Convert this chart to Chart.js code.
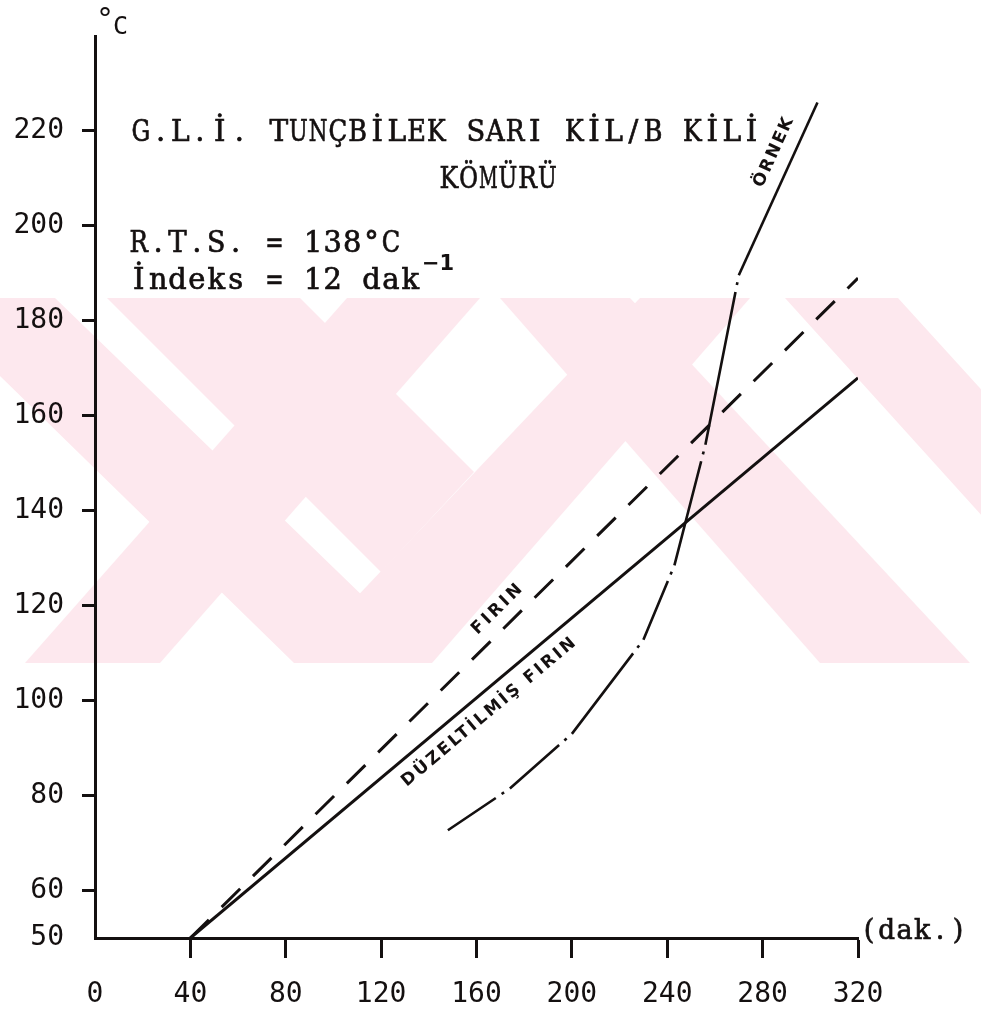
<!DOCTYPE html>
<html><head><meta charset="utf-8">
<script src="https://cdn.jsdelivr.net/npm/chart.js@4/dist/chart.umd.min.js"></script>
<style>html,body{margin:0;padding:0;background:#fff;} canvas{display:block;}</style>
</head><body>
<canvas id="c" width="981" height="1011"></canvas>
<script>
// ---- data ----
const xTicks = [0, 40, 80, 120, 160, 200, 240, 280, 320];
const yTicks = [50, 60, 80, 100, 120, 140, 160, 180, 200, 220];
const firinX = [40, 320];
const firinY = [50, 189];
const duzeltilmisX = [40, 320];
const duzeltilmisY = [50, 168];
const ornekX = [148, 174, 200, 230, 243, 256, 270, 303];
const ornekY = [72.7, 81.5, 93, 112.8, 128.5, 153.9, 189.6, 226];

const titleLine1 = 'G.L.İ. TUNÇBİLEK SARI KİL/B KİLİ';
const titleLine2 = 'KÖMÜRÜ';
const rtsText = 'R.T.S. = 138°C';
const indeksText = 'İndeks = 12 dak';
const indeksSup = '−1';
const xUnit = '(dak.)';
const labelFirin = 'FIRIN';
const labelDuz = 'DÜZELTİLMİŞ FIRIN';
const labelOrnek = 'ÖRNEK';

const ink = '#141010';
const pink = '#fde8ee';
const toXY = (xs, ys) => xs.map((x, i) => ({x, y: ys[i]}));

// typewriter-like text: each glyph in a fixed cell
function typeText(c, str, x, y, cell, font) {
  c.font = font; c.textAlign = 'center'; c.textBaseline = 'middle';
  c.strokeStyle = ink; c.lineWidth = 0.7;
  [...str].forEach((ch, i) => {
    const cx = x + cell * i + cell / 2;
    c.fillText(ch, cx, y, cell - 1);
    c.strokeText(ch, cx, y, cell - 1);
  });
  return x + cell * [...str].length;
}
function labelAlong(chart, dsIndex, i0, t, offset, text, font, spacing) {
  const meta = chart.getDatasetMeta(dsIndex);
  const p0 = meta.data[i0], p1 = meta.data[i0 + 1];
  const x = p0.x + (p1.x - p0.x) * t, y = p0.y + (p1.y - p0.y) * t;
  const ang = Math.atan2(p1.y - p0.y, p1.x - p0.x);
  const c = chart.ctx;
  c.save();
  c.translate(x, y); c.rotate(ang); c.translate(0, offset);
  c.font = font; c.letterSpacing = spacing + 'px';
  c.textAlign = 'center'; c.textBaseline = 'middle'; c.fillStyle = ink;
  c.fillText(text, 0, 0);
  c.restore();
}

// faint background watermark (decoration, not data)
const watermark = {
  id: 'wm',
  beforeDraw(chart) {
    const c = chart.ctx; c.save();
    c.fillStyle = '#fff'; c.fillRect(0, 0, chart.width, chart.height);
    c.beginPath(); c.rect(0, 298, chart.width, 365); c.clip();
    c.fillStyle = pink;
    const polys = [
      [[-80,298],[55,298],[432,663],[294,663]],
      [[107,298],[300,298],[474,472],[381,572]],
      [[347,298],[480,298],[160,663],[25,663]],
      [[640,298],[750,298],[432,663],[294,663]],
      [[500,298],[630,298],[970,663],[820,663]],
      [[785,298],[898,298],[1230,663],[1115,663]]
    ];
    polys.forEach(p => { c.beginPath(); p.forEach(([px,py], i) => i ? c.lineTo(px,py) : c.moveTo(px,py)); c.closePath(); c.fill(); });
    c.restore();
  }
};

const annotations = {
  id: 'ann',
  afterDraw(chart) {
    const c = chart.ctx; c.save(); c.fillStyle = ink;
    const serif = '29px "DejaVu Serif"';
    typeText(c, titleLine1, 131, 133, 19.7, serif);
    typeText(c, titleLine2, 439, 180, 19.7, serif);
    typeText(c, rtsText, 129, 244, 19.4, serif);
    const end = typeText(c, indeksText, 129, 281, 19.4, serif);
    c.font = 'bold 21px "DejaVu Sans"'; c.textAlign = 'left';
    c.fillText(indeksSup, end + 2, 265);
    // axis units
    const ca = chart.chartArea;
    c.textAlign = 'left'; c.textBaseline = 'middle';
    c.font = '30px "DejaVu Sans Mono"';
    c.fillText('°', ca.left + 1, 21);
    c.font = '25px "DejaVu Sans Mono"';
    c.fillText('C', ca.left + 18, 27);
    typeText(c, xUnit, ca.right + 2, ca.bottom - 6, 17.8, '27px "DejaVu Serif"');
    // curve labels
    const lf = 'bold 17px "DejaVu Sans"';
    labelAlong(chart, 1, 0, 0.48, -18, labelFirin, lf, 3);
    labelAlong(chart, 0, 0, 0.43, 19, labelDuz, lf, 2.5);
    labelAlong(chart, 2, 6, 0.67, -19, labelOrnek, lf, 2);
    c.restore();
  }
};

const tickCol = (ctx) => (ctx.tick && (ctx.tick.value === 0 || ctx.tick.value === 50)) ? 'rgba(0,0,0,0)' : ink;

new Chart(document.getElementById('c'), {
  type: 'line',
  data: {
    datasets: [
      { label: labelDuz, data: toXY(duzeltilmisX, duzeltilmisY), borderColor: ink, borderWidth: 3, pointRadius: 0, tension: 0 },
      { label: labelFirin, data: toXY(firinX, firinY), borderColor: ink, borderWidth: 3, borderDash: [26, 18], pointRadius: 0, tension: 0 },
      { label: labelOrnek, data: toXY(ornekX, ornekY), borderColor: ink, borderWidth: 2.6, pointRadius: 0, tension: 0,
        borderCapStyle: 'butt',
        segment: {
          borderDash: (ctx) => {
            if (ctx.p1DataIndex === ornekX.length - 1) return [];
            const d = Math.hypot(ctx.p1.x - ctx.p0.x, ctx.p1.y - ctx.p0.y);
            return [Math.max(d - 17, 4), 7, 3, 7];
          }
        } }
    ]
  },
  options: {
    responsive: false,
    animation: false,
    devicePixelRatio: 1,
    layout: { padding: { left: 0, right: 123, top: 36, bottom: 0 } },
    plugins: { legend: { display: false }, tooltip: { enabled: false } },
    scales: {
      x: {
        type: 'linear', min: 0, max: 320,
        afterBuildTicks: (s) => { s.ticks = xTicks.map(v => ({ value: v })); },
        afterFit: (s) => { s.height = 73; },
        border: { display: true, color: ink, width: 3 },
        grid: { drawOnChartArea: false, drawTicks: true, tickLength: 20, tickWidth: 3, tickColor: tickCol },
        ticks: { color: ink, font: { family: 'DejaVu Sans Mono', size: 28 }, padding: 20, maxRotation: 0, autoSkip: false }
      },
      y: {
        type: 'linear', min: 50, max: 240,
        afterBuildTicks: (s) => { s.ticks = yTicks.map(v => ({ value: v })); },
        afterFit: (s) => { s.width = 95; },
        border: { display: true, color: ink, width: 3 },
        grid: { drawOnChartArea: false, drawTicks: true, tickLength: 13, tickWidth: 3, tickColor: tickCol },
        ticks: { color: ink, font: { family: 'DejaVu Sans Mono', size: 28 }, padding: 18, autoSkip: false }
      }
    }
  },
  plugins: [watermark, annotations]
});
</script>
</body></html>
